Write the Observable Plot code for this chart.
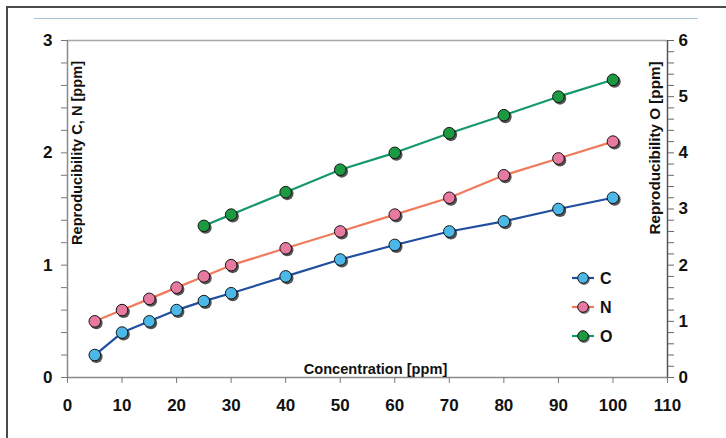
<!DOCTYPE html>
<html>
<head>
<meta charset="utf-8">
<script src="https://cdn.jsdelivr.net/npm/d3@7"></script>
<script src="https://cdn.jsdelivr.net/npm/@observablehq/plot@0.6"></script>
<style>
  html, body { margin: 0; padding: 0; background: #fff; }
  #wrap { position: relative; width: 726px; height: 438px; overflow: hidden; font-family: "Liberation Sans", Arial, sans-serif; }
  #frameTop { position: absolute; left: 6px; top: 6px; width: 720px; height: 0; border-top: 2px solid #4a4a4a; }
  #frameLeft { position: absolute; left: 6px; top: 6px; width: 0; height: 432px; border-left: 2px solid #4a4a4a; }
  #blueLine { position: absolute; left: 34px; top: 18px; width: 664px; height: 0; border-top: 1.5px solid #a9c6d8; }
  #chart { position: absolute; left: 0; top: 0; }
  #legend { position: absolute; left: 0; top: 0; }
</style>
</head>
<body>
<div id="wrap">
  <div id="frameTop"></div>
  <div id="frameLeft"></div>
  <div id="blueLine"></div>
  <div id="chart"></div>
  <svg id="legend" width="726" height="438"></svg>
</div>
<script>
// ---- data ----
const concCN = [5, 10, 15, 20, 25, 30, 40, 50, 60, 70, 80, 90, 100];
const valC   = [0.20, 0.40, 0.50, 0.60, 0.68, 0.75, 0.90, 1.05, 1.18, 1.30, 1.39, 1.50, 1.60];
const valN   = [0.50, 0.60, 0.70, 0.80, 0.90, 1.00, 1.15, 1.30, 1.45, 1.60, 1.80, 1.95, 2.10];
const concO  = [25, 30, 40, 50, 60, 70, 80, 90, 100];
const valO   = [2.70, 2.90, 3.30, 3.70, 4.00, 4.35, 4.67, 5.00, 5.30];   // right axis (0–6)

const xTicks      = [0, 10, 20, 30, 40, 50, 60, 70, 80, 90, 100, 110];
const yLeftTicks  = d3.range(0, 16).map(i => i / 5);      // 0..3 every 0.2
const yRightTicks = d3.range(0, 31).map(i => i / 10);     // O 0..6 every 0.2 (mapped /2)

const seriesNames = ["C", "N", "O"];
const lineColors  = ["#1f4f9e", "#f07a5c", "#15986c"];
const fillColors  = ["#4cb8e8", "#e87aa2", "#1b9a42"];

const xTitle      = "Concentration [ppm]";
const yLeftTitle  = "Reproducibility C, N [ppm]";
const yRightTitle = "Reproducibility O [ppm]";

// O is drawn on the left scale via the right axis ratio (6 ↔ 3)
const oRatio = 2;

const rows = [
  ...concCN.map((x, i) => ({series: "C", x, y: valC[i]})),
  ...concCN.map((x, i) => ({series: "N", x, y: valN[i]})),
  ...concO.map((x, i) => ({series: "O", x, y: valO[i] / oRatio}))
];

const isInt = d => Math.abs(d - Math.round(d)) < 1e-9;

const marks = [
  Plot.ruleY([3], {stroke: "#a8a8a8", strokeWidth: 1.5}),
  Plot.ruleY([0], {stroke: "#8a8a8a", strokeWidth: 1.5}),
  Plot.ruleX([0], {stroke: "#8a8a8a", strokeWidth: 1.5}),
  Plot.ruleX([110], {stroke: "#555", strokeWidth: 1.5}),
  Plot.axisX({ticks: xTicks, tickSize: 6, tickPadding: 15, stroke: "#777", fill: "#111",
              fontSize: 17, fontWeight: "bold", tickFormat: d => String(d), label: null}),
  Plot.axisY({anchor: "left", ticks: yLeftTicks, tickSize: 6, tickPadding: 9, stroke: "#777", fill: "#111",
              fontSize: 17, fontWeight: "bold", tickFormat: d => isInt(d) ? String(Math.round(d)) : "", label: null}),
  Plot.axisY({anchor: "right", ticks: yRightTicks, tickSize: 6, tickPadding: 5, stroke: "#666", fill: "#111",
              fontSize: 17, fontWeight: "bold",
              tickFormat: d => isInt(d * oRatio) ? String(Math.round(d * oRatio)) : "", label: null}),
  Plot.text([xTitle], {frameAnchor: "bottom", dy: -4, dx: 8, fontSize: 14.6, fontWeight: "bold", fill: "#111"}),
  Plot.text([yLeftTitle], {frameAnchor: "left", textAnchor: "middle", lineAnchor: "middle", rotate: -90,
                           dx: 10, dy: -56, fontSize: 14.6, fontWeight: "bold", fill: "#111"}),
  Plot.text([yRightTitle], {frameAnchor: "right", textAnchor: "middle", lineAnchor: "middle", rotate: -90,
                            dx: -12, dy: -61, fontSize: 15.2, fontWeight: "bold", fill: "#111"}),
];

seriesNames.forEach((s, i) => {
  const d = rows.filter(r => r.series === s);
  marks.push(Plot.line(d, {x: "x", y: "y", stroke: lineColors[i], strokeWidth: 2.2}));
});
seriesNames.forEach((s, i) => {
  const d = rows.filter(r => r.series === s);
  marks.push(Plot.dot(d, {x: "x", y: "y", r: 6.2, fill: "#1a1a1a", fillOpacity: 0.75, dx: 1.6, dy: 1.8}));
  marks.push(Plot.dot(d, {x: "x", y: "y", r: 5.8, fill: fillColors[i], stroke: "#151515", strokeWidth: 1}));
});

const chart = Plot.plot({
  width: 726,
  height: 438,
  marginLeft: 67,
  marginRight: 59,
  marginTop: 40,
  marginBottom: 61,
  style: {background: "transparent", fontFamily: "'Liberation Sans', Arial, sans-serif", fontWeight: "bold", fontSize: "17px"},
  x: {domain: [0, 110]},
  y: {domain: [0, 3]},
  marks
});
document.getElementById("chart").appendChild(chart);

// ---- legend ----
const leg = d3.select("#legend");
const legX = 583, legY0 = 278, legStep = 29;
seriesNames.forEach((s, i) => {
  const y = legY0 + i * legStep;
  leg.append("line").attr("x1", legX - 11).attr("x2", legX + 11).attr("y1", y).attr("y2", y)
    .attr("stroke", lineColors[i]).attr("stroke-width", 2.2);
  leg.append("circle").attr("cx", legX + 1.2).attr("cy", y + 1.4).attr("r", 5.5)
    .attr("fill", "#1a1a1a").attr("fill-opacity", 0.6);
  leg.append("circle").attr("cx", legX).attr("cy", y).attr("r", 5.3)
    .attr("fill", fillColors[i]).attr("stroke", "#151515").attr("stroke-width", 1);
  leg.append("text").attr("x", legX + 17).attr("y", y).attr("dy", "0.36em")
    .attr("font-family", "'Liberation Sans', Arial, sans-serif").attr("font-weight", "bold")
    .attr("font-size", 16).attr("fill", "#111").text(s);
});
</script>
</body>
</html>
